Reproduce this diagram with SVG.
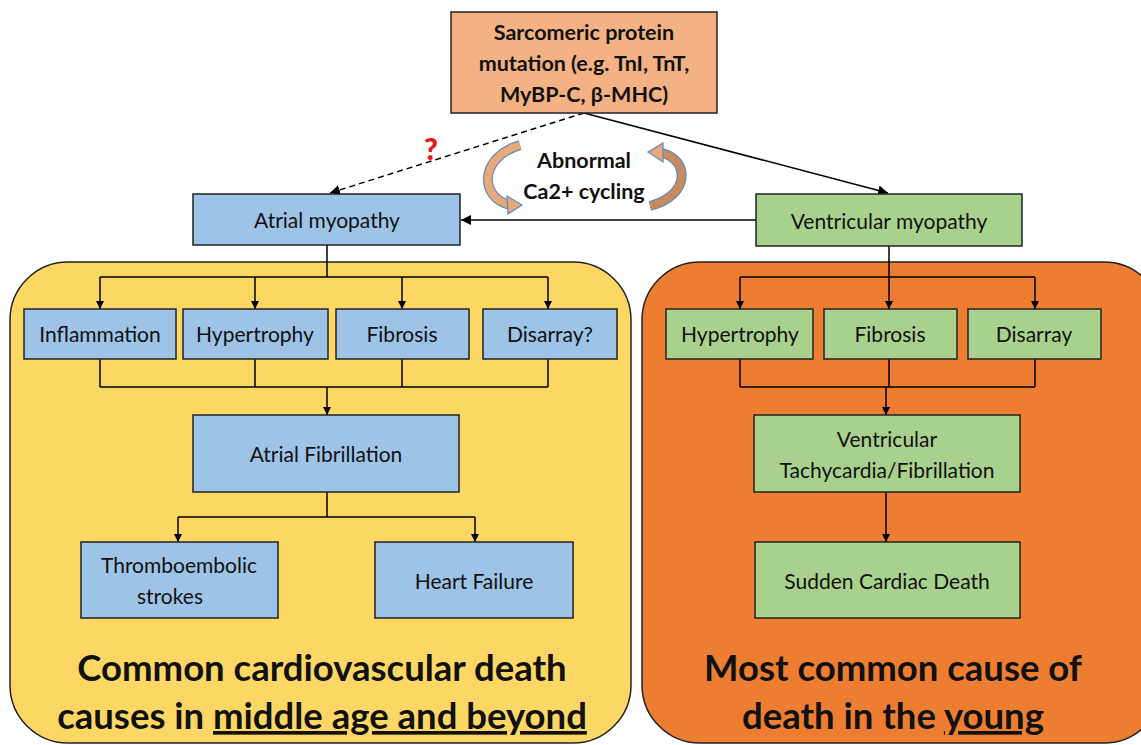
<svg xmlns="http://www.w3.org/2000/svg" width="1141" height="745" viewBox="0 0 1141 745">
<style>
text{font-family:Lato,"Liberation Sans",sans-serif;fill:#111;text-anchor:middle}
.n{font-size:21px}
.b{font-size:21.5px;font-weight:bold}
.big{font-size:36.5px;font-weight:bold}
.box{stroke:#222;stroke-width:1.5}
.blue{fill:#9DC3E6}
.green{fill:#A9D18E}
.ln{fill:none;stroke:#000;stroke-width:1.5}
</style>
<defs>
<marker id="ah" viewBox="0 0 10 10" refX="10" refY="5" markerWidth="8" markerHeight="8" markerUnits="userSpaceOnUse" orient="auto">
<path d="M0,0 L10,5 L0,10 z" fill="#000"/>
</marker>
<marker id="ah2" viewBox="0 0 10 10" refX="10" refY="5" markerWidth="10" markerHeight="10" markerUnits="userSpaceOnUse" orient="auto">
<path d="M0,0 L10,5 L0,10 z" fill="#000"/>
</marker>
</defs>
<rect width="1141" height="745" fill="#fff"/>
<g id="panel-left">
<rect x="10" y="262" width="621" height="481" rx="58" fill="#FDD764" stroke="#222" stroke-width="1.5"/>
<text class="big" x="322" y="681">Common cardiovascular death</text>
<text class="big" x="322" y="729">causes in <tspan text-decoration="underline">middle age and beyond</tspan></text>
</g>
<g id="panel-right">
<rect x="642" y="262" width="520" height="481" rx="58" fill="#ED7D31" stroke="#222" stroke-width="1.5"/>
<text class="big" x="893" y="681">Most common cause of</text>
<text class="big" x="893" y="729">death in the <tspan text-decoration="underline">young</tspan></text>
</g>
<g id="connectors">
<line class="ln" x1="584" y1="113" x2="330" y2="193" stroke-dasharray="6,4" marker-end="url(#ah2)"/>
<line class="ln" x1="584" y1="113" x2="888" y2="193" marker-end="url(#ah2)"/>
<line class="ln" x1="756" y1="220" x2="461" y2="220" marker-end="url(#ah2)"/>
<path class="ln" d="M327,245 V277 M100,277 H548"/>
<line class="ln" x1="100" y1="277" x2="100" y2="309" marker-end="url(#ah)"/>
<line class="ln" x1="255" y1="277" x2="255" y2="309" marker-end="url(#ah)"/>
<line class="ln" x1="402" y1="277" x2="402" y2="309" marker-end="url(#ah)"/>
<line class="ln" x1="548" y1="277" x2="548" y2="309" marker-end="url(#ah)"/>
<path class="ln" d="M100,359 V387 M255,359 V387 M402,359 V387 M548,359 V387 M100,387 H548"/>
<line class="ln" x1="327" y1="387" x2="327" y2="415" marker-end="url(#ah)"/>
<path class="ln" d="M327,492 V517 M178,517 H475"/>
<line class="ln" x1="178" y1="517" x2="178" y2="542" marker-end="url(#ah)"/>
<line class="ln" x1="475" y1="517" x2="475" y2="542" marker-end="url(#ah)"/>
<path class="ln" d="M889,246 V277 M740,277 H1035"/>
<line class="ln" x1="740" y1="277" x2="740" y2="309" marker-end="url(#ah)"/>
<line class="ln" x1="889" y1="277" x2="889" y2="309" marker-end="url(#ah)"/>
<line class="ln" x1="1035" y1="277" x2="1035" y2="309" marker-end="url(#ah)"/>
<path class="ln" d="M740,359 V387 M889,359 V387 M1035,359 V387 M740,387 H1035"/>
<line class="ln" x1="886" y1="387" x2="886" y2="415" marker-end="url(#ah)"/>
<line class="ln" x1="886" y1="492" x2="886" y2="542" marker-end="url(#ah)"/>
</g>
<g id="ca-cycling">
<path d="M520,145 C478,158 480,198 510,205" fill="none" stroke="#5B8BC4" stroke-width="10"/>
<path d="M520,145 C478,158 480,198 510,205" fill="none" stroke="#E8A878" stroke-width="7.5"/>
<path d="M507,196 L522,205 L508,214 z" fill="#E8A878" stroke="#5B8BC4" stroke-width="1.2"/>
<path d="M650,206 C690,196 690,160 662,153" fill="none" stroke="#5B8BC4" stroke-width="10"/>
<path d="M650,206 C690,196 690,160 662,153" fill="none" stroke="#C98A5E" stroke-width="7.5"/>
<path d="M663,143 L648,152 L663,162 z" fill="#E8A878" stroke="#5B8BC4" stroke-width="1.2"/>
<text class="b" x="584" y="168">Abnormal</text>
<text class="b" x="584" y="199">Ca2+ cycling</text>
<text x="431" y="160" style="font-size:30px;font-weight:900;fill:#E8161A">?</text>
</g>
<g id="mutation">
<rect class="box" x="451" y="12" width="266" height="101" fill="#F4B183"/>
<text class="b" x="584" y="40">Sarcomeric protein</text>
<text class="b" x="584" y="71">mutation (e.g. TnI, TnT,</text>
<text class="b" x="584" y="102">MyBP-C, β-MHC)</text>
</g>
<g id="atrial-myopathy">
<rect class="box blue" x="193" y="194" width="267" height="51"/>
<text class="n" x="327" y="228">Atrial myopathy</text>
</g>
<g id="ventricular-myopathy">
<rect class="box green" x="756" y="194" width="266" height="52"/>
<text class="n" x="889" y="229">Ventricular myopathy</text>
</g>
<g id="inflammation">
<rect class="box blue" x="24" y="309" width="152" height="50"/>
<text class="n" x="100" y="342">Inflammation</text>
</g>
<g id="hypertrophy-a">
<rect class="box blue" x="183" y="309" width="145" height="50"/>
<text class="n" x="255" y="342">Hypertrophy</text>
</g>
<g id="fibrosis-a">
<rect class="box blue" x="336" y="309" width="133" height="50"/>
<text class="n" x="402" y="342">Fibrosis</text>
</g>
<g id="disarray-a">
<rect class="box blue" x="483" y="309" width="134" height="50"/>
<text class="n" x="550" y="342">Disarray?</text>
</g>
<g id="atrial-fibrillation">
<rect class="box blue" x="193" y="415" width="266" height="77"/>
<text class="n" x="326" y="462">Atrial Fibrillation</text>
</g>
<g id="thromboembolic">
<rect class="box blue" x="81" y="542" width="197" height="76"/>
<text class="n" x="179" y="573">Thromboembolic</text>
<text class="n" x="170" y="604">strokes</text>
</g>
<g id="heart-failure">
<rect class="box blue" x="375" y="542" width="198" height="76"/>
<text class="n" x="474" y="589">Heart Failure</text>
</g>
<g id="hypertrophy-v">
<rect class="box green" x="666" y="309" width="147" height="50"/>
<text class="n" x="740" y="342">Hypertrophy</text>
</g>
<g id="fibrosis-v">
<rect class="box green" x="824" y="309" width="133" height="50"/>
<text class="n" x="890" y="342">Fibrosis</text>
</g>
<g id="disarray-v">
<rect class="box green" x="968" y="309" width="133" height="50"/>
<text class="n" x="1034" y="342">Disarray</text>
</g>
<g id="vt-vf">
<rect class="box green" x="754" y="415" width="266" height="77"/>
<text class="n" x="887" y="447">Ventricular</text>
<text class="n" x="887" y="478">Tachycardia/Fibrillation</text>
</g>
<g id="scd">
<rect class="box green" x="755" y="542" width="265" height="76"/>
<text class="n" x="887" y="589">Sudden Cardiac Death</text>
</g>
</svg>
